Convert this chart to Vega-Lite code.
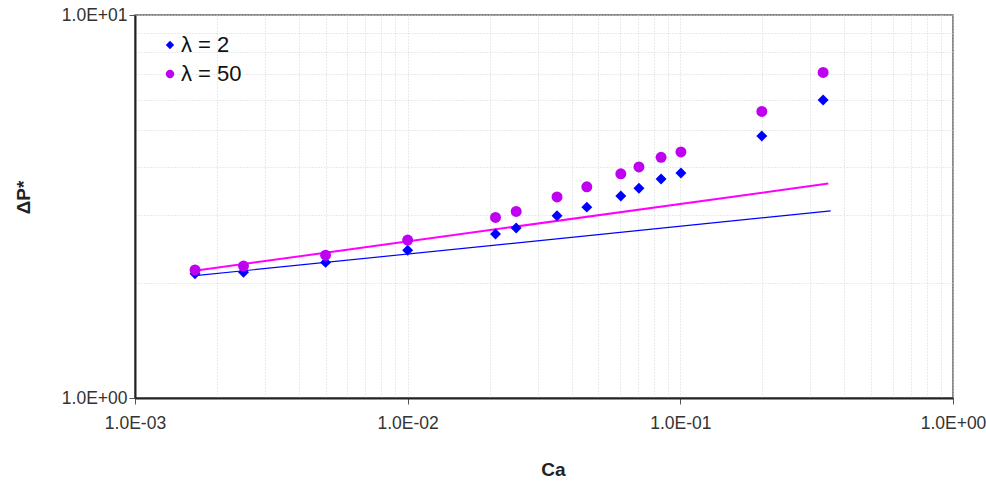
{
  "$schema": "https://vega.github.io/schema/vega-lite/v6.json",
  "width": 818,
  "height": 383,
  "autosize": {"type": "none"},
  "padding": {"left": 135, "top": 15, "right": 33, "bottom": 84},
  "background": "white",
  "config": {
    "font": "Liberation Sans",
    "view": {"stroke": "#666666", "strokeWidth": 1.5},
    "axis": {
      "domainColor": "#222222",
      "domainWidth": 2,
      "gridColor": "#cfd6d6",
      "gridDash": [1, 2],
      "gridWidth": 1,
      "tickColor": "#555555",
      "tickSize": 6,
      "labelFont": "Liberation Sans",
      "labelFontSize": 17.5,
      "labelColor": "#333333",
      "labelFlush": false,
      "titleFont": "Liberation Sans",
      "titleFontSize": 19,
      "titleFontWeight": "bold",
      "titleColor": "#222222",
      "labelOverlap": false
    }
  },
  "datasets": {
    "points": [
      {"Ca": 0.00166, "dP": 2.11, "series": "λ = 2"},
      {"Ca": 0.0025, "dP": 2.13, "series": "λ = 2"},
      {"Ca": 0.005, "dP": 2.26, "series": "λ = 2"},
      {"Ca": 0.01, "dP": 2.43, "series": "λ = 2"},
      {"Ca": 0.021, "dP": 2.68, "series": "λ = 2"},
      {"Ca": 0.025, "dP": 2.78, "series": "λ = 2"},
      {"Ca": 0.0353, "dP": 2.99, "series": "λ = 2"},
      {"Ca": 0.0454, "dP": 3.15, "series": "λ = 2"},
      {"Ca": 0.0605, "dP": 3.37, "series": "λ = 2"},
      {"Ca": 0.0705, "dP": 3.53, "series": "λ = 2"},
      {"Ca": 0.085, "dP": 3.73, "series": "λ = 2"},
      {"Ca": 0.1005, "dP": 3.87, "series": "λ = 2"},
      {"Ca": 0.199, "dP": 4.83, "series": "λ = 2"},
      {"Ca": 0.334, "dP": 6.0, "series": "λ = 2"},
      {"Ca": 0.00166, "dP": 2.16, "series": "λ = 50"},
      {"Ca": 0.0025, "dP": 2.21, "series": "λ = 50"},
      {"Ca": 0.005, "dP": 2.36, "series": "λ = 50"},
      {"Ca": 0.01, "dP": 2.585, "series": "λ = 50"},
      {"Ca": 0.021, "dP": 2.96, "series": "λ = 50"},
      {"Ca": 0.025, "dP": 3.07, "series": "λ = 50"},
      {"Ca": 0.0353, "dP": 3.35, "series": "λ = 50"},
      {"Ca": 0.0454, "dP": 3.56, "series": "λ = 50"},
      {"Ca": 0.0605, "dP": 3.85, "series": "λ = 50"},
      {"Ca": 0.0705, "dP": 4.01, "series": "λ = 50"},
      {"Ca": 0.085, "dP": 4.25, "series": "λ = 50"},
      {"Ca": 0.1005, "dP": 4.39, "series": "λ = 50"},
      {"Ca": 0.199, "dP": 5.6, "series": "λ = 50"},
      {"Ca": 0.334, "dP": 7.08, "series": "λ = 50"}
    ],
    "fits": [
      {"Ca": 0.00163, "dP": 2.083, "fit": "λ = 2"},
      {"Ca": 0.356, "dP": 3.08, "fit": "λ = 2"},
      {"Ca": 0.00163, "dP": 2.146, "fit": "λ = 50"},
      {"Ca": 0.349, "dP": 3.63, "fit": "λ = 50"}
    ]
  },
  "encoding": {
    "x": {
      "field": "Ca",
      "type": "quantitative",
      "scale": {"type": "log", "domain": [0.001, 1], "nice": false},
      "axis": {
        "title": "Ca",
        "values": [0.001, 0.002, 0.003, 0.004, 0.005, 0.006, 0.007, 0.008, 0.009, 0.01, 0.02, 0.03, 0.04, 0.05, 0.06, 0.07, 0.08, 0.09, 0.1, 0.2, 0.3, 0.4, 0.5, 0.6, 0.7, 0.8, 0.9, 1],
        "labelExpr": "abs(log(datum.value)/LN10 - round(log(datum.value)/LN10)) < 0.000001 ? ('1.0E' + (round(log(datum.value)/LN10) < 0 ? '-' : '+') + (abs(round(log(datum.value)/LN10)) < 10 ? '0' : '') + abs(round(log(datum.value)/LN10))) : ''",
        "tickOpacity": {"condition": {"test": "abs(log(datum.value)/LN10 - round(log(datum.value)/LN10)) < 0.000001", "value": 1}, "value": 0},
        "labelPadding": 10,
        "titleX": 418,
        "titleY": 71,
        "titleAlign": "center",
        "titleBaseline": "middle"
      }
    },
    "y": {
      "field": "dP",
      "type": "quantitative",
      "scale": {"type": "log", "domain": [1, 10], "nice": false},
      "axis": {
        "title": "ΔP*",
        "values": [1, 2, 3, 4, 5, 6, 7, 8, 9, 10],
        "labelExpr": "abs(log(datum.value)/LN10 - round(log(datum.value)/LN10)) < 0.000001 ? ('1.0E' + (round(log(datum.value)/LN10) < 0 ? '-' : '+') + (abs(round(log(datum.value)/LN10)) < 10 ? '0' : '') + abs(round(log(datum.value)/LN10))) : ''",
        "tickOpacity": {"condition": {"test": "abs(log(datum.value)/LN10 - round(log(datum.value)/LN10)) < 0.000001", "value": 1}, "value": 0},
        "labelPadding": 2,
        "titleX": -112,
        "titleY": 182,
        "titleAngle": -90,
        "titleAlign": "center",
        "titleBaseline": "middle"
      }
    }
  },
  "layer": [
    {
      "data": {"name": "fits"},
      "transform": [{"filter": "datum.fit === 'λ = 2'"}],
      "mark": {"type": "line", "color": "#0000ff", "strokeWidth": 1.2},
      "encoding": {}
    },
    {
      "data": {"name": "fits"},
      "transform": [{"filter": "datum.fit === 'λ = 50'"}],
      "mark": {"type": "line", "color": "#ff00ff", "strokeWidth": 2},
      "encoding": {}
    },
    {
      "data": {"name": "points"},
      "mark": {"type": "point", "filled": true, "opacity": 1, "size": 120},
      "encoding": {
        "color": {
          "field": "series",
          "type": "nominal",
          "scale": {"domain": ["λ = 2", "λ = 50"], "range": ["#0000ff", "#c000f0"]},
          "legend": {
            "title": null,
            "orient": "none",
            "legendX": 24,
            "legendY": 19,
            "labelFont": "Liberation Sans",
            "labelFontSize": 22,
            "labelColor": "#111111",
            "symbolSize": 70,
            "symbolOpacity": 1,
            "labelOffset": 0,
            "rowPadding": 7,
            "padding": 0
          }
        },
        "shape": {
          "field": "series",
          "type": "nominal",
          "scale": {"domain": ["λ = 2", "λ = 50"], "range": ["diamond", "circle"]}
        }
      }
    }
  ]
}
